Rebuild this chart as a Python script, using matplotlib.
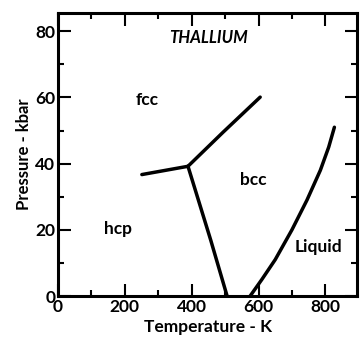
import matplotlib
matplotlib.use("Agg")
import matplotlib.pyplot as plt
from matplotlib.ticker import MultipleLocator

plt.rcParams['font.family'] = ['Lato', 'DejaVu Sans']

# Phase boundaries of thallium (T in K, P in kbar)
hcp_fcc_T = [251, 389]
hcp_fcc_P = [36.7, 39.2]

fcc_bcc_T = [389, 494, 605]
fcc_bcc_P = [39.2, 49.5, 60.1]

hcp_bcc_T = [389, 457, 506]
hcp_bcc_P = [39.2, 16.9, 0.0]

melt_T = [575, 610, 650, 700, 745, 785, 810, 827]
melt_P = [0.0, 5.0, 11.0, 20.0, 29.0, 38.0, 45.0, 51.0]

x_ticks = [0, 200, 400, 600, 800]
y_ticks = [0, 20, 40, 60, 80]

phase_labels = ["fcc", "bcc", "hcp", "Liquid"]
phase_T = [266, 585, 180, 779]
phase_P = [59.2, 35.0, 20.2, 14.8]

fig = plt.figure(figsize=(3.6, 3.44), dpi=100)
ax = fig.add_axes([0.161, 0.1395, 0.831, 0.8225])

for T, P in [(hcp_fcc_T, hcp_fcc_P), (fcc_bcc_T, fcc_bcc_P),
             (hcp_bcc_T, hcp_bcc_P), (melt_T, melt_P)]:
    ax.plot(T, P, color='black', lw=2.5, solid_capstyle='round',
            solid_joinstyle='round')

ax.set_xlim(0, 895)
ax.set_ylim(0, 85.5)
ax.set_xticks(x_ticks)
ax.set_yticks(y_ticks)
ax.xaxis.set_minor_locator(MultipleLocator(100))
ax.yaxis.set_minor_locator(MultipleLocator(10))
ax.tick_params(which='both', direction='in', top=True, right=True,
               width=1.5, labelsize=12.5, pad=2)
ax.tick_params(which='major', length=9)
ax.tick_params(which='minor', length=4.5)
for lab in ax.get_xticklabels() + ax.get_yticklabels():
    lab.set_fontweight('bold')
for sp in ax.spines.values():
    sp.set_linewidth(2.2)

ax.set_xlabel("Temperature - K", fontsize=12.5, fontweight='bold', labelpad=3)
ax.set_ylabel("Pressure - kbar", fontsize=12, fontweight='bold', labelpad=2)

ax.text(449, 78.1, "THALLIUM", fontsize=12, fontweight='bold',
        fontstyle='italic', ha='center', va='center')
for name, T, P in zip(phase_labels, phase_T, phase_P):
    ax.text(T, P, name, fontsize=12.5, fontweight='bold',
            ha='center', va='center')

fig.savefig("out.png", dpi=100)
